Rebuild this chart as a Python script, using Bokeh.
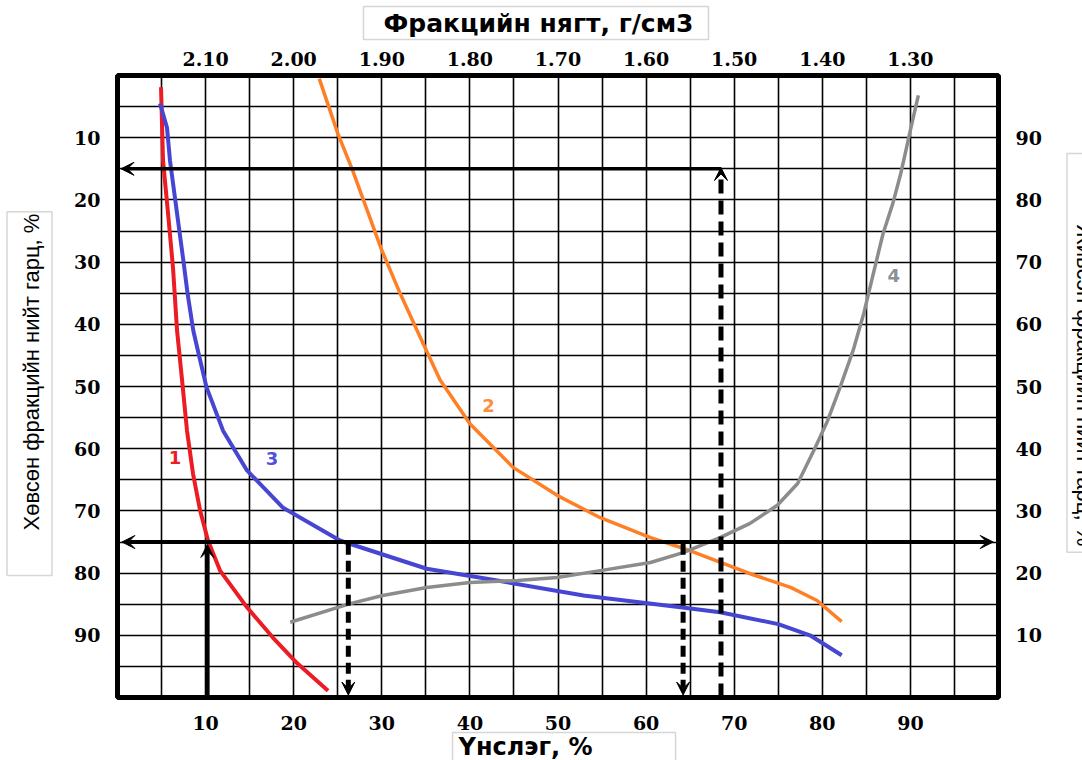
from bokeh.plotting import figure
from bokeh.models import (Range1d, LinearAxis, FixedTicker, NumeralTickFormatter,
                          Title, Arrow, VeeHead, GlobalInlineStyleSheet)
from bokeh.core.properties import value
from bokeh.embed import file_html
from bokeh.resources import INLINE

# ---------------- data ----------------
ash_ticks = [10, 20, 30, 40, 50, 60, 70, 80, 90]
yield_ticks = [10, 20, 30, 40, 50, 60, 70, 80, 90]
density_ticks = [2.10, 2.00, 1.90, 1.80, 1.70, 1.60, 1.50, 1.40, 1.30]
grid_ticks = list(range(5, 100, 5))

# curve 1 : cumulative floats ash vs floats yield (left axis)
floats_ash = [4.94, 5.17, 5.74, 6.30, 6.76, 7.33, 7.89, 8.57, 9.37, 10.28,
              11.64, 14.7, 17.66, 20.4, 23.9]
floats_yield = [1.9, 13.7, 22.2, 30.9, 41.0, 49.0, 57.1, 64.0, 69.9, 74.8,
                79.6, 85.5, 90.4, 94.5, 98.9]

# curve 3 : elementary ash vs floats yield (left axis)
elem_ash = [4.83, 5.62, 5.96, 6.76, 7.47, 7.95, 8.6, 9.2, 10.1, 11.98,
            14.7, 18.8, 25.3, 35.1, 43.1, 52.9, 63.9, 68.4, 75.0, 78.6, 82.2]
elem_yield = [4.5, 8.4, 13.7, 22.2, 29.7, 35.0, 41.0, 44.7, 50.1, 57.1,
              63.5, 69.5, 74.8, 79.3, 81.2, 83.6, 85.5, 86.3, 88.2, 90.0, 93.2]

# curve 2 : density (top axis) vs floats yield (left axis)
density = [1.971, 1.950, 1.933, 1.900, 1.879, 1.856, 1.834, 1.800, 1.751,
           1.701, 1.652, 1.595, 1.558, 1.482, 1.436, 1.406, 1.378]
density_yield = [0.5, 9.3, 15.3, 28.1, 35.1, 42.2, 48.9, 56.0, 63.0,
                 67.5, 71.1, 74.3, 76.0, 80.1, 82.3, 84.4, 87.8]

# curve 4 : cumulative sinks ash vs sinks yield (right axis)
sinks_ash = [90.9, 90.0, 88.9, 88.0, 86.9, 85.8, 84.7, 83.5, 82.0, 80.6,
             79.2, 77.2, 74.9, 71.8, 68.4, 64.2, 60.5, 54.8, 49.9, 45.4,
             40.0, 35.1, 30.1, 26.4, 19.6]
sinks_yield = [96.8, 91.2, 84.2, 79.4, 74.6, 68.2, 61.7, 55.8, 49.8, 44.5,
               40.2, 34.4, 30.9, 28.0, 25.7, 23.3, 21.7, 20.4, 19.3, 18.8,
               18.5, 17.7, 16.4, 15.1, 12.1]

curve_names = ["1", "2", "3", "4"]
curve_colors = ["#ec1c24", "#ff7f27", "#4646d2", "#8c8c8c"]
label_colors = ["#ec1c24", "#ff8c3c", "#5050d8", "#8a8f98"]

# reading construction (yields and ash values)
target_yield = 75
target_ash = 10.2
read_ash_1 = 26.2
read_ash_2 = 64.2
read_ash_3 = 68.5
read_yield_top = 15

# ---------------- layout geometry ----------------
SHIFT_X, SHIFT_Y = 100, 60         # canvas is shifted up/left; the page clips overflow
FRAME_L, FRAME_R, FRAME_T, FRAME_B = 117, 998, 75, 697   # in page pixels

p = figure(frame_width=FRAME_R - FRAME_L, frame_height=FRAME_B - FRAME_T,
           x_range=Range1d(0, 100), y_range=Range1d(100, 0),
           output_backend="svg", toolbar_location=None,
           min_border_left=FRAME_L + SHIFT_X, min_border_top=FRAME_T + SHIFT_Y,
           min_border_right=40, min_border_bottom=40)
p.styles = {"position": "relative", "left": f"-{SHIFT_X}px", "top": f"-{SHIFT_Y}px"}
p.stylesheets = [GlobalInlineStyleSheet(css="html, body { overflow: hidden !important; }")]
p.extra_x_ranges = {"density": Range1d(2.2, 1.2)}
p.extra_y_ranges = {"sinks": Range1d(0, 100)}
p.background_fill_color = "white"
p.border_fill_color = "white"
p.outline_line_color = "black"
p.outline_line_width = 5

TICK_FONT = "DejaVu Serif"


def style_axis(ax, standoff):
    ax.axis_line_color = None
    ax.major_tick_line_color = None
    ax.minor_tick_line_color = None
    ax.major_tick_in = 0
    ax.major_tick_out = 0
    ax.minor_tick_in = 0
    ax.minor_tick_out = 0
    ax.major_label_text_font = TICK_FONT
    ax.major_label_text_font_style = "bold"
    ax.major_label_text_font_size = "19px"
    ax.major_label_text_color = "black"
    ax.major_label_standoff = standoff


p.xaxis[0].ticker = FixedTicker(ticks=ash_ticks)
style_axis(p.xaxis[0], 18)
p.yaxis[0].ticker = FixedTicker(ticks=yield_ticks)
style_axis(p.yaxis[0], 17)

top_axis = LinearAxis(x_range_name="density", ticker=FixedTicker(ticks=density_ticks),
                      formatter=NumeralTickFormatter(format="0.00"))
style_axis(top_axis, 10)
p.add_layout(top_axis, "above")

right_axis = LinearAxis(y_range_name="sinks", ticker=FixedTicker(ticks=yield_ticks))
style_axis(right_axis, 17)
p.add_layout(right_axis, "right")

for g in (p.xgrid[0], p.ygrid[0]):
    g.ticker = FixedTicker(ticks=grid_ticks)
    g.grid_line_color = "black"
    g.grid_line_width = 1.6
    g.grid_line_alpha = 1.0

# ---------------- curves ----------------
p.line(floats_ash, floats_yield, line_color=curve_colors[0], line_width=4, line_join="round")
p.line(density, density_yield, x_range_name="density", line_color=curve_colors[1],
       line_width=3.5, line_join="round")
p.line(elem_ash, elem_yield, line_color=curve_colors[2], line_width=4, line_join="round")
p.line(sinks_ash, sinks_yield, y_range_name="sinks", line_color=curve_colors[3],
       line_width=3.5, line_join="round")

p.text(x=[6.53, 42.1, 17.55, 88.1], y=[61.4, 53.1, 61.6, 32.2], text=curve_names,
       text_color=label_colors, text_font=value("DejaVu Sans"), text_font_style="bold",
       text_font_size="18px", text_align="center", text_baseline="middle")

# ---------------- reading construction ----------------
def head():
    return VeeHead(size=13, fill_color="black", line_color="black", line_width=1)

p.add_layout(Arrow(start=head(), end=head(), x_start=0.5, y_start=target_yield,
                   x_end=99.4, y_end=target_yield, line_width=4, line_color="black"))
p.add_layout(Arrow(end=head(), x_start=target_ash, y_start=100, x_end=target_ash,
                   y_end=target_yield + 0.4, line_width=4.5, line_color="black"))
for xa in (read_ash_1, read_ash_2):
    p.add_layout(Arrow(end=head(), x_start=xa, y_start=target_yield + 0.3, x_end=xa,
                       y_end=99.6, line_width=5, line_color="black", line_dash="11 6"))
p.add_layout(Arrow(end=head(), x_start=read_ash_3, y_start=100, x_end=read_ash_3,
                   y_end=read_yield_top - 0.2, line_width=5, line_color="black",
                   line_dash="14 7"))
p.add_layout(Arrow(end=head(), x_start=read_ash_3, y_start=read_yield_top, x_end=0.4,
                   y_end=read_yield_top, line_width=3.5, line_color="black"))

# ---------------- titles (in the side panels) ----------------
BOX = "#d6d6d6"
TITLE_FONT = "DejaVu Sans"
SIDE_FONT = "Liberation Sans"

p.add_layout(Title(text="Фракцийн нягт, г/см3", align="left", offset=246, standoff=18,
                   vertical_align="bottom", text_font=TITLE_FONT, text_font_style="bold",
                   text_font_size="25px", text_color="black",
                   border_line_color=BOX, border_line_width=1.5,
                   background_fill_color="white",
                   padding=dict(left=20, right=15, top=2, bottom=2)), "above")
p.add_layout(Title(text="Үнслэг, %", align="left", offset=335, standoff=0,
                   vertical_align="top", text_font=TITLE_FONT, text_font_style="bold",
                   text_font_size="24px", text_color="black",
                   border_line_color=BOX, border_line_width=1.5,
                   background_fill_color="white",
                   padding=dict(left=6, right=83, top=0, bottom=8)), "below")
p.add_layout(Title(text="Хөвсөн фракцийн нийт гарц, %", align="left", offset=122,
                   standoff=39, vertical_align="bottom", text_font=SIDE_FONT,
                   text_font_style="normal", text_font_size="22px", text_color="black",
                   border_line_color=BOX, border_line_width=1.5,
                   background_fill_color="white",
                   padding=dict(left=45, right=2, top=12, bottom=8)), "left")
p.add_layout(Title(text="Живсэн фракцийн нийт гарц, %", align="left", offset=78,
                   standoff=45, vertical_align="bottom", text_font=SIDE_FONT,
                   text_font_style="normal", text_font_size="22px", text_color="black",
                   border_line_color=BOX, border_line_width=1.5,
                   background_fill_color="white",
                   padding=dict(left=71, right=6, top=5, bottom=5)), "right")

open("out.html", "w").write(file_html(p, INLINE))
